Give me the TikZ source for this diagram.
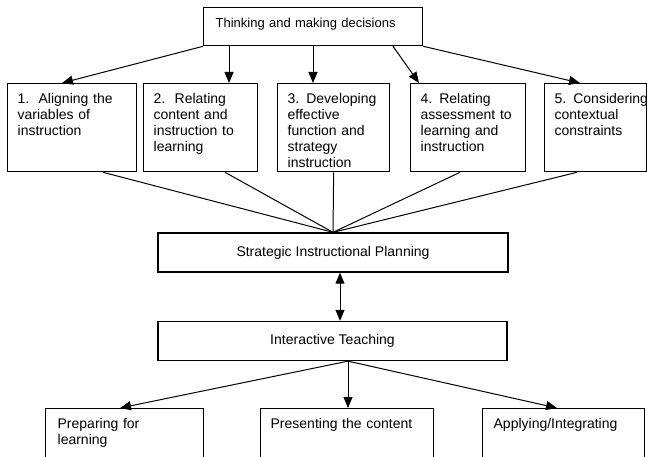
\documentclass[tikz,border=0pt]{standalone}
\usepackage{fontspec}
\setmainfont{Liberation Sans}
\usetikzlibrary{arrows.meta}

\begin{document}
\begin{tikzpicture}[x=1pt, y=-1pt,
  stage/.style={draw, line width=1.3pt, anchor=north west, align=left,
    font=\fontsize{14}{16}\selectfont, inner xsep=10pt, inner ysep=10pt,
    text height=10pt, text depth=58pt},
  bar/.style={draw, line width=1.3pt, minimum height=39pt,
    font=\fontsize{14}{16}\selectfont},
  link/.style={line width=1pt},
  arr/.style={line width=1pt, -{Triangle[length=11pt, width=9pt]}},
  dbl/.style={line width=1pt, {Triangle[length=11pt, width=9pt]}-{Triangle[length=11pt, width=9pt]}}]
  \useasboundingbox (0,0) rectangle (647,457);
  \clip (0,0) rectangle (647,457);

  \node[stage, text width=195pt, inner xsep=12pt, text depth=8pt,
    font=\fontsize{13}{15}\selectfont] (think) at (203,7) {Thinking and making decisions};

  \node[stage, text width=109pt] (s1) at (7,83) {1.\ \ Aligning the\\variables of\\instruction};
  \node[stage, text width=94pt] (s2) at (143,83) {2.\ \ Relating\\content and\\instruction to\\learning};
  \node[stage, text width=92pt] (s3) at (277,83) {3. Developing\\effective\\function and\\strategy\\instruction};
  \node[stage, text width=95pt] (s4) at (410,83) {4. Relating\\assessment to\\learning and\\instruction};
  \node[stage, text width=82pt] (s5) at (544,83) {\mbox{5. Considering}\\contextual\\constraints};

  \draw[arr] (think.south west) -- ([xshift=55pt]s1.north west);
  \draw[arr] ([xshift=26pt]think.south west) -- ([xshift=86pt]s2.north west);
  \draw[arr] ([xshift=110pt]think.south west) -- ([xshift=36pt]s3.north west);
  \draw[arr] ([xshift=190pt]think.south west) -- ([xshift=9pt]s4.north west);
  \draw[arr] (think.south east) -- ([xshift=36pt]s5.north west);

  \node[bar, minimum width=350pt] (plan) at (333,252.5) {Strategic Instructional Planning};
  \node[bar, minimum width=349pt] (inter) at (332.5,341) {Interactive Teaching};

  \coordinate (hub) at (plan.north);
  \draw[link] ([xshift=96pt]s1.south west) -- (hub);
  \draw[link] ([xshift=82pt]s2.south west) -- (hub);
  \draw[link] (s3.south) -- (hub);
  \draw[link] ([xshift=50pt]s4.south west) -- (hub);
  \draw[link] ([xshift=33pt]s5.south west) -- (hub);

  \draw[dbl] ([xshift=7pt]plan.south) -- ([xshift=7.5pt]inter.north);

  \node[stage, text width=134pt, inner xsep=12pt] (prep) at (45,408) {Preparing for\\learning};
  \node[stage, text width=153pt] (pres) at (260,408) {Presenting the content};
  \node[stage, text width=140pt, inner xsep=11pt] (appl) at (482,408) {Applying/Integrating};

  \draw[arr] ([xshift=15.5pt]inter.south) -- ([xshift=75pt]prep.north west);
  \draw[arr] ([xshift=15.5pt]inter.south) -- ([xshift=88pt]pres.north west);
  \draw[arr] ([xshift=15.5pt]inter.south) -- ([xshift=75pt]appl.north west);
\end{tikzpicture}
\end{document}
